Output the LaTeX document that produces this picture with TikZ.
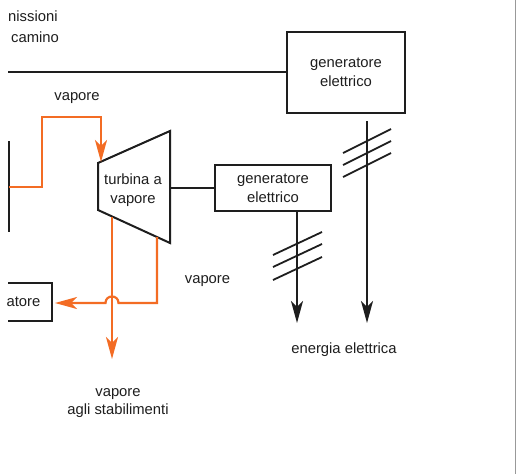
\documentclass[tikz,border=0pt]{standalone}
\usepackage{fontspec}
\setmainfont{Liberation Sans}
\usetikzlibrary{arrows.meta}
\definecolor{steam}{RGB}{243,108,36}
\definecolor{ink}{RGB}{30,30,30}
\begin{document}
\begin{tikzpicture}[x=1pt,y=-1pt,
  lbl/.style={font=\fontsize{14.8}{19}\selectfont, text=ink, align=center, inner sep=0pt},
  box/.style={draw=ink, line width=2pt, inner sep=0pt, font=\fontsize{14.8}{19}\selectfont, text=ink, align=center},
  wire/.style={draw=ink, line width=2pt},
  thinwire/.style={draw=ink, line width=1.3pt},
  pipe/.style={draw=steam, line width=2.2pt},
  tip/.style={-{Stealth[length=22pt,width=12pt,inset=6pt]}},
  hatch/.style={draw=ink, line width=1.8pt}]
\useasboundingbox (0,0) rectangle (516,474);
\fill[white] (0,0) rectangle (516,474);
\draw[gray!80, line width=1pt] (515.5,0) -- (515.5,474);

% top-left label (cropped)
\node[lbl, anchor=base west] (em1) at (8,21) {nissioni};
\node[lbl, anchor=base west] (em2) at (11,42) {camino};

% generators
\node[box, minimum width=118pt, minimum height=81pt] (gen1) at (346,72) {generatore\\elettrico};
\node[box, minimum width=116pt, minimum height=46pt] (gen2) at (273,188) {generatore\\elettrico};

% top horizontal line
\coordinate (topL) at (8,72);
\draw[wire] (topL) -- (gen1.west);

% turbine
\coordinate (tA) at (98,163);
\coordinate (tB) at (170,131);
\coordinate (tC) at (170,243);
\coordinate (tD) at (98,210);
\draw[wire, line join=miter] (tA) -- (tB) -- (tC) -- (tD) -- cycle;
\node[lbl, anchor=base] (tur1) at (133,184) {turbina a};
\node[lbl, anchor=base] (tur2) at (133,203) {vapore};

% shaft
\coordinate (shaft) at (170,188);
\draw[wire] (shaft) -- (gen2.west);

% left cropped box
\coordinate (lb1) at (8,283);
\coordinate (lb2) at (52,283);
\coordinate (lb3) at (52,321);
\coordinate (lb4) at (8,321);
\draw[wire, line join=miter] (lb1) -- (lb2) -- (lb3) -- (lb4);
\node[lbl, anchor=base east] (lbtxt) at (40.5,306.5) {atore};

% left black vertical line
\coordinate (lv1) at (9,141);
\coordinate (lv2) at (9,232);
\draw[thinwire] (lv1) -- (lv2);

% electrical outputs
\coordinate (o1s) at (367,121);
\coordinate (o1e) at (367,323);
\draw[wire, tip] (o1s) -- (o1e);
\draw[hatch] (343,153) -- (391,129);
\draw[hatch] (343,165) -- (391,141);
\draw[hatch] (343,177) -- (391,153);

\coordinate (o2e) at (297,323);
\draw[wire, tip] (gen2.south -| o2e) -- (o2e);
\draw[hatch] (273,255) -- (322,232);
\draw[hatch] (273,267) -- (322,244);
\draw[hatch] (273,280) -- (322,257);

% steam in
\coordinate (s0) at (9,187);
\coordinate (s1) at (42,187);
\coordinate (s2) at (42,117);
\coordinate (s3) at (101,117);
\coordinate (s4) at (101,162);
\draw[pipe, tip, line join=miter] (s0) -- (s1) -- (s2) -- (s3) -- (s4);
\node[lbl, anchor=base] (vap1) at (77,100) {vapore};

% steam out to plants
\coordinate (d0) at (112,217);
\coordinate (d1) at (112,359);
\draw[pipe, tip] (d0) -- (d1);

% steam to left box
\coordinate (e0) at (157,237);
\coordinate (e1) at (157,303);
\coordinate (e2) at (118.5,303);
\coordinate (e3) at (105.5,303);
\coordinate (e4) at (55,303);
\draw[pipe, tip, line join=miter] (e0) -- (e1) -- (e2) .. controls (118.5,294.3) and (105.5,294.3) .. (e3) -- (e4);

% labels
\node[lbl, anchor=base] (vap2) at (207.5,283.5) {vapore};
\node[lbl, anchor=base] (en) at (344,353.5) {energia elettrica};
\node[lbl, anchor=base] (vap3a) at (118,396) {vapore};
\node[lbl, anchor=base] (vap3b) at (118,414.5) {agli stabilimenti};
\end{tikzpicture}
\end{document}
